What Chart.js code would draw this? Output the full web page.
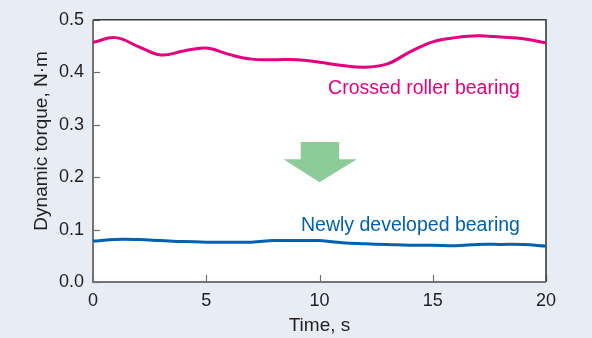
<!DOCTYPE html>
<html>
<head>
<meta charset="utf-8">
<script src="https://cdn.jsdelivr.net/npm/chart.js@4/dist/chart.umd.min.js"></script>
<style>
  html, body { margin: 0; padding: 0; background: #e7ecf5; }
  #wrap { width: 592px; height: 338px; }
</style>
</head>
<body>
<div id="wrap"><canvas id="c" width="592" height="338"></canvas></div>
<script>
// Measured dynamic torque over time (s -> N·m)
const timeSeconds = [0, 1, 2, 3, 4, 5, 6, 7, 8, 9, 10, 11, 12, 13, 14, 15, 16, 17, 18, 19, 20];
const crossedRollerTorque = [0.457, 0.466, 0.449, 0.433, 0.4405, 0.446, 0.434, 0.425, 0.424, 0.424, 0.419,
                             0.413, 0.4095, 0.416, 0.439, 0.458, 0.466, 0.4695, 0.467, 0.464, 0.456];
const newBearingTorque = [0.078, 0.0812, 0.081, 0.079, 0.077, 0.076, 0.076, 0.076, 0.079, 0.079, 0.079,
                          0.075, 0.073, 0.0715, 0.070, 0.070, 0.069, 0.0717, 0.0717, 0.0715, 0.0685];

const xTickValues = [0, 5, 10, 15, 20];
const yTickValues = [0, 0.1, 0.2, 0.3, 0.4, 0.5];

const seriesNames = ['Crossed roller bearing', 'Newly developed bearing'];
const seriesColors = ['#e4007f', '#0061ae'];
// where each series name sits (right edge, vertical centre) in data units
const nameAnchorX = [18.85, 18.85];
const nameAnchorY = [0.368, 0.108];

// downward arrow between the two curves, in data units
const arrowShaftX = [9.17, 10.87];
const arrowShaftY = [0.267, 0.234];
const arrowHeadX = [8.41, 11.65];
const arrowTip = [10.0, 0.19];

const FONT = '"Liberation Sans", Arial, Helvetica, sans-serif';

const framePlugin = {
  id: 'frame',
  beforeDraw(chart) {
    const { ctx, chartArea: a } = chart;
    ctx.save();
    ctx.fillStyle = '#e7ecf5';
    ctx.fillRect(0, 0, chart.width, chart.height);
    ctx.fillStyle = '#ffffff';
    ctx.fillRect(a.left, a.top, a.right - a.left, a.bottom - a.top);
    ctx.restore();
  },
  beforeDatasetsDraw(chart) {
    const { ctx, chartArea: a, scales } = chart;
    ctx.save();
    // inward tick marks
    ctx.strokeStyle = '#6d6d6d';
    ctx.lineWidth = 1.2;
    scales.y.ticks.forEach(t => {
      const y = Math.round(scales.y.getPixelForValue(t.value)) + 0.5;
      ctx.beginPath(); ctx.moveTo(a.left, y); ctx.lineTo(a.left + 7, y); ctx.stroke();
    });
    scales.x.ticks.forEach(t => {
      const x = Math.round(scales.x.getPixelForValue(t.value)) + 0.5;
      ctx.beginPath(); ctx.moveTo(x, a.bottom); ctx.lineTo(x, a.bottom - 7); ctx.stroke();
    });
    // frame: top and right dark, left and bottom grey
    ctx.lineWidth = 1.6;
    ctx.strokeStyle = '#3a3a3a';
    ctx.beginPath();
    ctx.moveTo(a.left, a.top); ctx.lineTo(a.right, a.top); ctx.lineTo(a.right, a.bottom);
    ctx.stroke();
    ctx.strokeStyle = '#737373';
    ctx.lineWidth = 2;
    ctx.beginPath();
    ctx.moveTo(a.left, a.top); ctx.lineTo(a.left, a.bottom); ctx.lineTo(a.right, a.bottom);
    ctx.stroke();

    // arrow
    const sx = scales.x, sy = scales.y;
    ctx.fillStyle = '#8ecb9b';
    ctx.beginPath();
    ctx.moveTo(sx.getPixelForValue(arrowShaftX[0]), sy.getPixelForValue(arrowShaftY[0]));
    ctx.lineTo(sx.getPixelForValue(arrowShaftX[1]), sy.getPixelForValue(arrowShaftY[0]));
    ctx.lineTo(sx.getPixelForValue(arrowShaftX[1]), sy.getPixelForValue(arrowShaftY[1]));
    ctx.lineTo(sx.getPixelForValue(arrowHeadX[1]), sy.getPixelForValue(arrowShaftY[1]));
    ctx.lineTo(sx.getPixelForValue(arrowTip[0]), sy.getPixelForValue(arrowTip[1]));
    ctx.lineTo(sx.getPixelForValue(arrowHeadX[0]), sy.getPixelForValue(arrowShaftY[1]));
    ctx.lineTo(sx.getPixelForValue(arrowShaftX[0]), sy.getPixelForValue(arrowShaftY[1]));
    ctx.closePath();
    ctx.fill();
    ctx.restore();
  },
  afterDraw(chart) {
    const { ctx, chartArea: a, scales } = chart;
    ctx.save();
    // series names
    ctx.font = '19.5px ' + FONT;
    ctx.textAlign = 'right';
    ctx.textBaseline = 'middle';
    seriesNames.forEach((name, i) => {
      ctx.fillStyle = seriesColors[i];
      ctx.fillText(name, scales.x.getPixelForValue(nameAnchorX[i]), scales.y.getPixelForValue(nameAnchorY[i]));
    });
    // y axis title
    ctx.fillStyle = '#231f20';
    ctx.font = '19px ' + FONT;
    ctx.translate(42, (a.top + a.bottom) / 2 - 10);
    ctx.rotate(-Math.PI / 2);
    ctx.textAlign = 'center';
    ctx.fillText('Dynamic torque, N·m', 0, 0);
    ctx.restore();
  }
};

new Chart(document.getElementById('c'), {
  type: 'line',
  data: {
    labels: timeSeconds,
    datasets: [
      {
        label: seriesNames[0],
        data: timeSeconds.map((t, i) => ({ x: t, y: crossedRollerTorque[i] })),
        borderColor: seriesColors[0],
        borderWidth: 3,
        pointRadius: 0,
        tension: 0.4,
        fill: false
      },
      {
        label: seriesNames[1],
        data: timeSeconds.map((t, i) => ({ x: t, y: newBearingTorque[i] })),
        borderColor: seriesColors[1],
        borderWidth: 3,
        pointRadius: 0,
        tension: 0.4,
        fill: false
      }
    ]
  },
  options: {
    responsive: false,
    animation: false,
    events: [],
    layout: { padding: { top: 18, right: 46, bottom: 1, left: 0 } },
    plugins: { legend: { display: false }, tooltip: { enabled: false } },
    scales: {
      x: {
        type: 'linear',
        min: 0, max: 20,
        afterBuildTicks(scale) { scale.ticks = xTickValues.map(v => ({ value: v })); },
        afterFit(scale) { scale.height = 55; },
        grid: { display: false, drawTicks: false },
        border: { display: false },
        ticks: { padding: 8, color: '#231f20', font: { family: FONT, size: 18 }, maxRotation: 0 },
        title: { display: true, text: 'Time, s', color: '#231f20', font: { family: FONT, size: 19 }, padding: { top: 0, bottom: 0 } }
      },
      y: {
        min: 0, max: 0.5,
        afterBuildTicks(scale) { scale.ticks = yTickValues.map(v => ({ value: v })); },
        afterFit(scale) { scale.width = 93; },
        grid: { display: false, drawTicks: false },
        border: { display: false },
        ticks: { padding: 9, color: '#231f20', font: { family: FONT, size: 18 }, callback: v => v.toFixed(1) }
      }
    }
  },
  plugins: [framePlugin]
});
</script>
</body>
</html>
